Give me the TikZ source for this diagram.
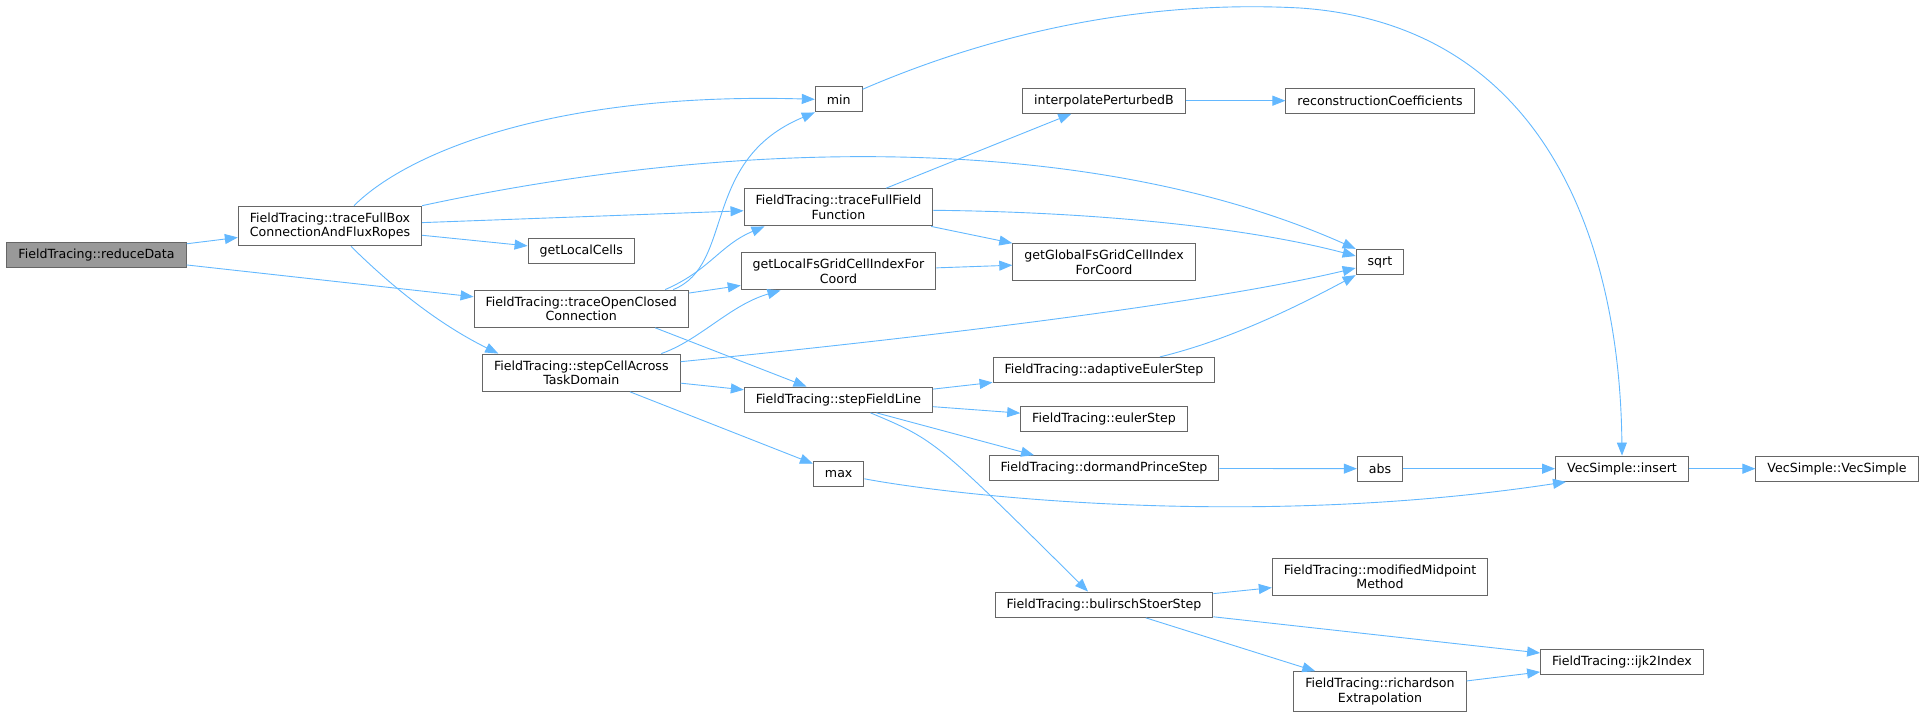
\documentclass[tikz,border=0pt]{standalone}
\usepackage{fontspec}
\setmainfont{DejaVu Sans}
\usetikzlibrary{arrows.meta}
\definecolor{edgeblue}{HTML}{63B8FF}
\definecolor{boxgray}{HTML}{666666}
\definecolor{rootgray}{HTML}{999999}

\begin{document}
\begin{tikzpicture}[x=1pt, y=-1pt,
  fn/.style={draw=boxgray, fill=white, rectangle, line width=1pt, inner xsep=11.5pt, inner ysep=6.4pt, minimum height=25.3pt, align=center, font=\fontsize{12.6}{14.7}\selectfont},
  root/.style={fn, fill=rootgray},
  call/.style={edgeblue, line width=0.9pt, -{Stealth[length=\l, width=\w, inset=0pt]}}]
\def\l{13pt}
\def\w{10pt}
\useasboundingbox (0,0) rectangle (1925,717);
% callers
\node [root, name=reduce]     at (96.5,255)   {FieldTracing::reduceData};
\node [fn, name=fullbox]      at (330,226)    {FieldTracing::traceFullBox\\ConnectionAndFluxRopes};
\node [fn, name=cells]        at (581.3,251.3) {getLocalCells};
\node [fn, name=openclosed]   at (581.2,308.7) {FieldTracing::traceOpenClosed\\Connection};
\node [fn, name=stepcell]     at (581.3,372.7) {FieldTracing::stepCellAcross\\TaskDomain};
\node [fn, name=minf]         at (838.7,99.3)  {min};
\node [fn, name=fullfield]    at (838.5,207.3) {FieldTracing::traceFullField\\Function};
\node [fn, name=localfs]      at (838.5,271.3) {getLocalFsGridCellIndexFor\\Coord};
\node [fn, name=stepline]     at (838.5,399.7) {FieldTracing::stepFieldLine};
\node [fn, name=maxf]         at (838.7,473.8) {max};
\node [fn, name=interp]       at (1104,100.7)  {interpolatePerturbedB};
\node [fn, name=globalfs]     at (1104,262)    {getGlobalFsGridCellIndex\\ForCoord};
\node [fn, name=adaptive]     at (1104,370)    {FieldTracing::adaptiveEulerStep};
\node [fn, name=euler]        at (1104,419.3)  {FieldTracing::eulerStep};
\node [fn, name=dormand]      at (1104,468.3)  {FieldTracing::dormandPrinceStep};
\node [fn, name=bulirsch]     at (1104,604.7)  {FieldTracing::bulirschStoerStep};
\node [fn, name=recon]        at (1380,100.7)  {reconstructionCoefficients};
\node [fn, name=sqrtf]        at (1380,262)    {sqrt};
\node [fn, name=absf]         at (1380,468.7)  {abs};
\node [fn, name=midpoint]     at (1380,576.7)  {FieldTracing::modifiedMidpoint\\Method};
\node [fn, name=richardson]   at (1380,691.5)  {FieldTracing::richardson\\Extrapolation};
\node [fn, name=insert]       at (1622,468.7)  {VecSimple::insert};
\node [fn, name=ijk]          at (1622,662)    {FieldTracing::ijk2Index};
\node [fn, name=vecsimple]    at (1837,468.7)  {VecSimple::VecSimple};
% calls
\draw [call] (reduce) -- (fullbox);
\draw [call] (reduce) -- (openclosed);
\draw [call] ([xshift=24]fullbox.north) .. controls (410,150) and (560,92) .. (minf.west);
\draw [call] (fullbox.north east) .. controls (750,135) and (1100,135) .. (sqrtf.north west);
\draw [call] (fullbox) -- (fullfield);
\draw [call] (fullbox) -- (cells);
\draw [call] ([xshift=21]fullbox.south) .. controls (380,275) and (430,320) .. ([xshift=-83]stepcell.north);
\draw [call] ([xshift=92]openclosed.north) .. controls (735,265) and (700,160) .. (minf.south west);
\draw [call] ([xshift=84]openclosed.north) .. controls (710,270) and (720,245) .. ([xshift=-74]fullfield.south);
\draw [call] (openclosed) -- (localfs);
\draw [call] ([xshift=74]openclosed.south) -- ([xshift=-32]stepline.north);
\draw [call] ([xshift=80]stepcell.north) .. controls (700,340) and (730,305) .. ([xshift=-58]localfs.south);
\draw [call] ([yshift=11]stepcell.east) .. controls (900,340) and (1200,305) .. ([yshift=-6]sqrtf.west);
\draw [call] (stepcell) -- (stepline);
\draw [call] (stepcell) -- (maxf);
\draw [call] ([yshift=10]minf.east) .. controls (1000,30) and (1150,0) .. (1300,8)
  .. controls (1550,25) and (1620,250) .. (insert.north);
\draw [call] (fullfield) -- (interp);
\draw [call] ([yshift=-3]fullfield.east) .. controls (1100,212) and (1250,228) .. ([yshift=6]sqrtf.west);
\draw [call] (fullfield) -- (globalfs);
\draw [call] (localfs) -- (globalfs);
\draw [call] (interp) -- (recon);
\draw [call] (stepline) -- (adaptive);
\draw [call] (stepline) -- (euler);
\draw [call] ([xshift=38]stepline.south) -- ([xshift=-70]dormand.north);
\draw [call] ([xshift=32]stepline.south) .. controls (935,440) .. ([xshift=-16]bulirsch.north);
\draw [call] ([xshift=56]adaptive.north) .. controls (1230,340) and (1300,305) .. (sqrtf.south west);
\draw [call] (dormand) -- (absf);
\draw [call] (absf) -- (insert);
\draw [call] ([yshift=-5]maxf.east) .. controls (950,495) and (1250,530) .. ([xshift=-56]insert.south);
\draw [call] (insert) -- (vecsimple);
\draw [call] (bulirsch) -- (midpoint);
\draw [call] (bulirsch) -- (ijk);
\draw [call] (bulirsch) -- (richardson);
\draw [call] (richardson) -- (ijk);
\end{tikzpicture}
\end{document}
